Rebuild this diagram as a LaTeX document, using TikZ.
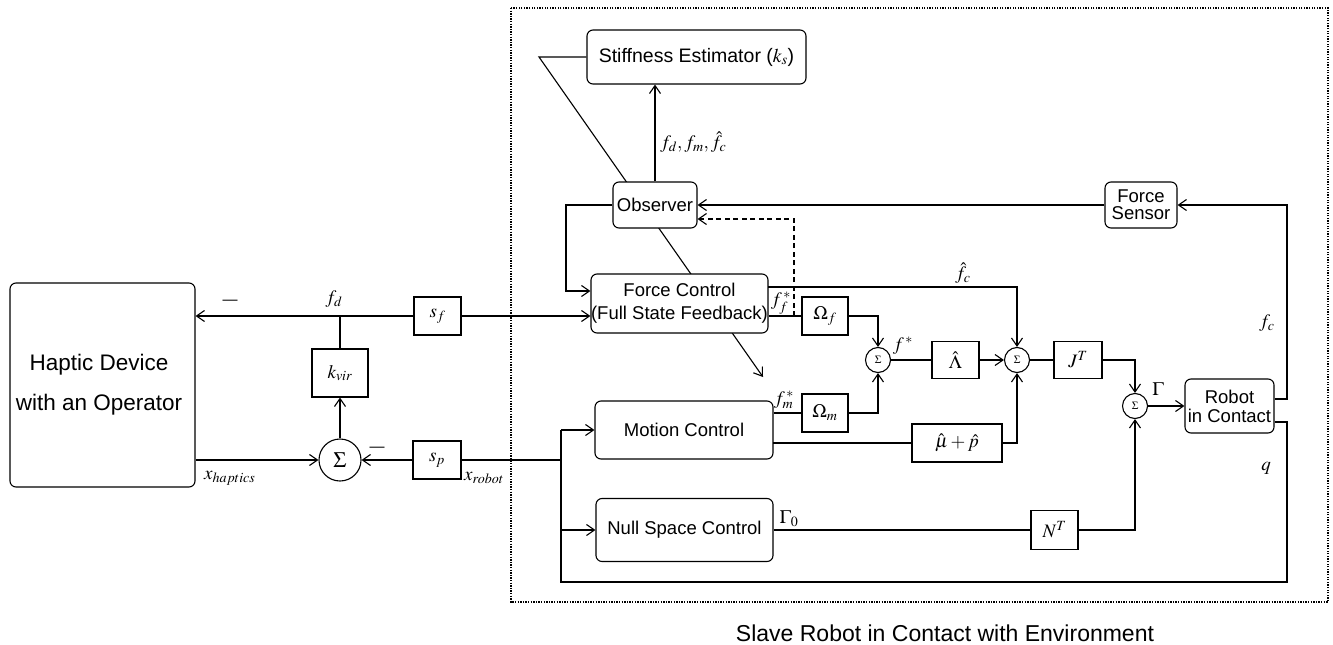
\documentclass[tikz,border=0pt]{standalone}
\usepackage{mathptmx}
\usepackage[no-math]{fontspec}
\setmainfont{Liberation Sans}
\usetikzlibrary{arrows.meta,calc}
\pgfdeclarelayer{bg}
\pgfsetlayers{bg,main}
\tikzset{
  wire/.style={line width=1.1pt},
  arr/.style={wire, -{Straight Barb[length=8pt,width=11pt,line width=1.1pt]}},
  blk/.style={draw, rounded corners=6pt, fill=white, line width=1.1pt, align=center,
              inner sep=0pt, font=\fontsize{18.5}{23}\selectfont},
  gain/.style={draw, fill=white, line width=1.1pt, inner sep=0pt,
               font=\fontsize{19}{21}\selectfont},
  sumsm/.style={draw, circle, fill=white, line width=1.1pt, minimum size=25pt,
                inner sep=0pt, font=\fontsize{11}{11}\selectfont},
  sumbig/.style={draw, circle, fill=white, line width=1.1pt, minimum size=42pt,
                 inner sep=0pt, font=\fontsize{22}{22}\selectfont},
  sig/.style={inner sep=0pt, font=\fontsize{19}{21}\selectfont},
  neg/.style={inner sep=0pt, font=\fontsize{15}{15}\selectfont},
}
\begin{document}
\begin{tikzpicture}[x=1pt,y=-1pt]
\useasboundingbox (0,0) rectangle (1333,645);

% slave side enclosure
\draw[line width=1.1pt, dash pattern=on 1.3pt off 1.3pt] (511,8) rectangle (1328,602);
\node[font=\fontsize{23}{25}\selectfont] (caption) at (945,633)
  {Slave Robot in Contact with Environment};

% master side
\node[draw, rounded corners=6pt, line width=1.1pt, minimum width=185pt,
      minimum height=204pt, inner sep=0pt] (haptic) at (102.5,385) {};
\node[align=center, font=\fontsize{22.5}{40}\selectfont] (haptictxt) at (99,385)
  {Haptic Device\\with an Operator};
\node[gain, minimum width=47pt, minimum height=38pt] (sf) at (437.5,316) {\(s_f\)};
\node[gain, minimum width=56pt, minimum height=48pt] (kvir) at (340,373) {\(k_{vir}\)};
\node[sumbig] (sum) at (340,460) {\(\Sigma\)};
\node[gain, minimum width=48pt, minimum height=38pt] (sp) at (437,460) {\(s_p\)};

% slave controller blocks
\node[blk, minimum width=219pt, minimum height=54pt, font=\fontsize{19.5}{23}\selectfont]
  (stiff) at (696.5,57) {Stiffness Estimator (\(k_s\))};
\node[blk, minimum width=84pt, minimum height=46pt] (obs) at (655,205) {Observer};
\node[blk, minimum width=177pt, minimum height=59pt] (fc) at (679.5,303.5)
  {Force Control\\(Full State Feedback)};
\node[blk, minimum width=178pt, minimum height=58pt] (mc) at (684,430) {Motion Control};
\node[blk, minimum width=177pt, minimum height=63pt] (nsc) at (684.5,530)
  {Null Space Control};
\node[blk, minimum width=72pt, minimum height=46pt, font=\fontsize{18.5}{17}\selectfont]
  (fs) at (1141,205) {Force\\Sensor};
\node[blk, minimum width=89pt, minimum height=54pt, font=\fontsize{18.5}{19}\selectfont]
  (robot) at (1229.5,406) {Robot\\in Contact};

\node[gain, minimum width=46pt, minimum height=38pt] (omf) at (825,316) {\(\Omega_f\)};
\node[gain, minimum width=46pt, minimum height=38pt] (omm) at (825,413) {\(\Omega_m\)};
\node[gain, minimum width=90pt, minimum height=38pt] (mup) at (957,443) {\(\hat{\mu}+\hat{p}\)};
\node[sumsm] (s1) at (878,360) {\(\Sigma\)};
\node[gain, minimum width=47pt, minimum height=37pt] (lam) at (955.5,360) {\(\hat{\Lambda}\)};
\node[sumsm] (s2) at (1017,360) {\(\Sigma\)};
\node[gain, minimum width=48pt, minimum height=37pt] (jt) at (1078,360) {\(J^T\)};
\node[sumsm] (s3) at (1135,406) {\(\Sigma\)};
\node[gain, minimum width=47pt, minimum height=39pt] (nt) at (1054.5,530) {\(N^T\)};

% bend points
\coordinate (kink) at (539,57);
\coordinate (adapt) at (763,377);
\coordinate (obsL) at (566,205);
\coordinate (obsLb) at (566,291);
\coordinate (dashB) at (794,316);
\coordinate (dashT) at (794,219);
\coordinate (fcR) at (1017,287);
\coordinate (fcRo) at (768,287);
\coordinate (mcRo) at (773,443);
\coordinate (fsR) at (1287,205);
\coordinate (robUp) at (1287,399);
\coordinate (robDn) at (1287,422);
\coordinate (qR) at (1287,582);
\coordinate (qL) at (561,582);
\coordinate (qT) at (561,430);
\coordinate (qN) at (561,530);
\coordinate (qS) at (561,460);

% adaptation line passing behind the observer and the force controller
\begin{pgfonlayer}{bg}
  \draw[arr] (stiff.west) -- (kink) -- (adapt);
\end{pgfonlayer}

% master loop
\draw[arr] (sf.west) -- (sf.west -| haptic.east);
\draw[arr] (sf.east) -- (sf.east -| fc.west);
\draw[wire] (kvir.north) -- (kvir.north |- sf.west);
\draw[arr] (sum.north) -- (kvir.south);
\draw[arr] (sum.west -| haptic.east) -- (sum.west);
\draw[arr] (sp.west) -- (sum.east);
\node[neg] (negf) at (230,302) {—};
\node[neg] (negp) at (377,449) {—};
\node[sig] (lfd) at (334,299) {\(f_d\)};
\node[sig, anchor=west] (lxh) at (204,478) {\(x_{haptics}\)};
\node[sig, anchor=west] (lxr) at (464,478) {\(x_{robot}\)};

% observer and estimator
\draw[arr] (obs.north) -- (obs.north |- stiff.south);
\node[sig, anchor=west] (lobs) at (660,142) {\(f_d, f_m, \hat{f}_c\)};
\draw[arr] (fs.west) -- (obs.east);
\draw[arr] (obs.west) -- (obsL) -- (obsLb) -- (obsLb -| fc.west);
\draw[wire, dash pattern=on 5pt off 3.5pt, -{Straight Barb[length=8pt,width=11pt,line width=1.1pt]}]
  (dashB) -- (dashT) -- (dashT -| obs.east);

% force and motion paths
\draw[arr] (fcRo) -- (fcR) -- (s2.north);
\node[sig] (lfc) at (963,273) {\(\hat{f}_c\)};
\draw[wire] (omf.west -| fc.east) -- (omf.west);
\node[sig] (lff) at (781,303) {\(f_f^{\,*}\)};
\draw[arr] (omf.east) -- (omf.east -| s1.north) -- (s1.north);
\draw[wire] (omm.west -| mc.east) -- (omm.west);
\node[sig] (lfm) at (784,400) {\(f_m^{\,*}\)};
\draw[arr] (omm.east) -- (omm.east -| s1.south) -- (s1.south);
\draw[wire] (mcRo) -- (mup.west);
\draw[arr] (mup.east) -- (mup.east -| s2.south) -- (s2.south);
\draw[wire] (s1.east) -- (lam.west);
\node[sig] (lfs) at (903,346) {\(f^{\,*}\)};
\draw[arr] (lam.east) -- (s2.west);
\draw[wire] (s2.east) -- (jt.west);
\draw[arr] (jt.east) -- (jt.east -| s3.north) -- (s3.north);
\draw[wire] (nsc.east) -- (nt.west);
\node[sig] (lg0) at (789,519) {\(\Gamma_0\)};
\draw[arr] (nt.east) -- (nt.east -| s3.south) -- (s3.south);
\draw[arr] (s3.east) -- (robot.west);
\node[sig] (lg) at (1158,389) {\(\Gamma\)};

% robot outputs
\draw[arr] (robot.east |- robUp) -- (robUp) -- (fsR) -- (fs.east);
\node[sig] (lfcm) at (1267,323) {\(f_c\)};
\draw[wire] (robot.east |- robDn) -- (robDn) -- (qR) -- (qL) -- (qT);
\draw[arr] (qT) -- (mc.west);
\draw[arr] (qN) -- (nsc.west);
\draw[wire] (qS) -- (sp.east);
\node[sig] (lq) at (1266,468) {\(q\)};
\end{tikzpicture}
\end{document}
